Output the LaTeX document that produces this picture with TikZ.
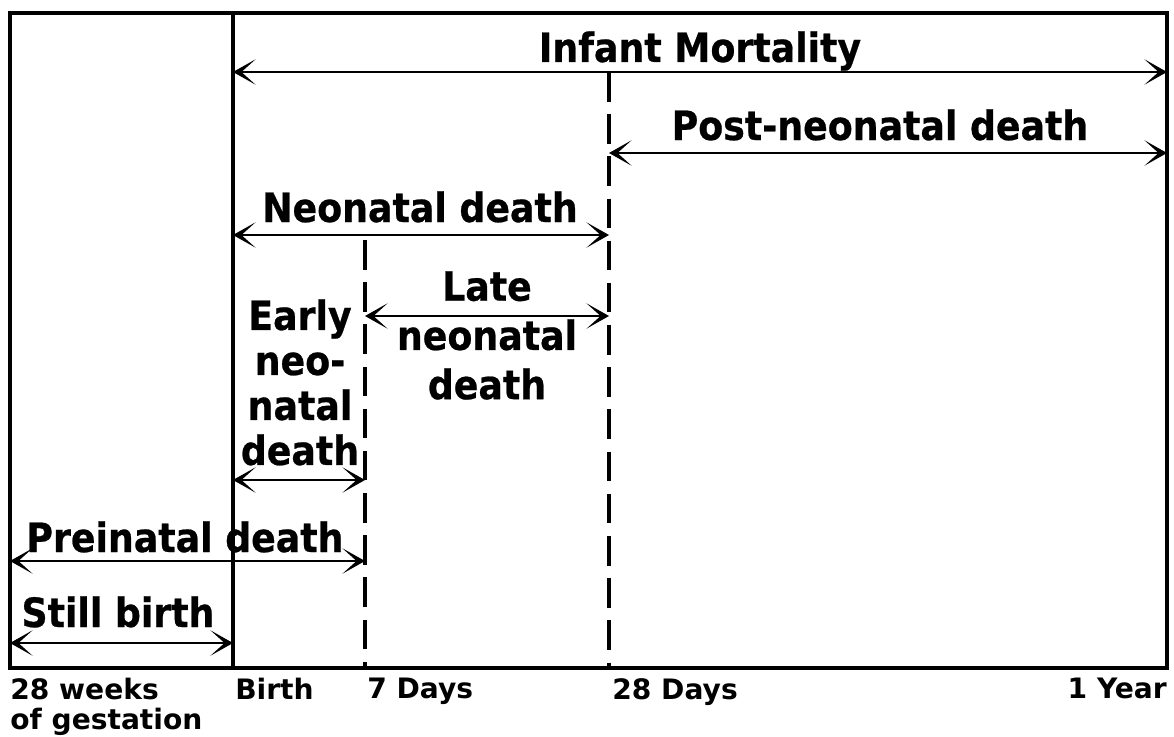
\documentclass[tikz,border=0pt]{standalone}
\usepackage{fontspec}
\setmainfont{DejaVu Sans Condensed}[BoldFeatures={FakeBold=0.6}]
\newfontfamily\tickfont{DejaVu Sans}
\usetikzlibrary{arrows.meta}

\begin{document}
\begin{tikzpicture}[x=0.025cm, y=-0.025cm,
    >={Stealth[length=16pt,width=18pt,inset=10pt]},
    span/.style={<->, line width=2.1pt},
    frame/.style={line width=3pt},
    cut/.style={line width=2.7pt, dash pattern=on 21pt off 9pt},
    big/.style={font=\fontsize{28.7}{35}\selectfont\bfseries, inner sep=0pt},
    tick/.style={font=\fontsize{20}{21}\selectfont\tickfont\bfseries, inner sep=0pt}]
  \useasboundingbox (0,0) rectangle (1174,736);

  % Marcas del eje
  \coordinate (gest)  at (10,668);
  \coordinate (birth) at (233,668);
  \coordinate (d7)    at (365,668);
  \coordinate (d28)   at (609,668);
  \coordinate (year)  at (1167,668);
  \coordinate (top)   at (10,13);

  % Niveles de las flechas
  \coordinate (lvIM)   at (0,72);
  \coordinate (lvPost) at (0,153);
  \coordinate (lvNeo)  at (0,235);
  \coordinate (lvCut)  at (0,240);
  \coordinate (lvLate) at (0,316);
  \coordinate (lvEarly) at (0,480);
  \coordinate (lvPre)  at (0,561);
  \coordinate (lvStill) at (0,643);

  % Marco
  \draw[frame] (top) rectangle (year);
  \draw[frame] (birth |- top) -- (birth);
  \draw[cut] (d7 |- lvCut) -- (d7);
  \draw[cut] (d28 |- lvIM) -- (d28);

  % Periodos
  \draw[span] (birth |- lvIM) -- (year |- lvIM);
  \draw[span] (d28 |- lvPost) -- (year |- lvPost);
  \draw[span] (birth |- lvNeo) -- (d28 |- lvNeo);
  \draw[span] (d7 |- lvLate) -- (d28 |- lvLate);
  \draw[span] (birth |- lvEarly) -- (d7 |- lvEarly);
  \draw[span] (gest |- lvPre) -- (d7 |- lvPre);
  \draw[span] (gest |- lvStill) -- (birth |- lvStill);

  % Etiquetas
  \node[big, anchor=base] (infant) at (700,62) {Infant Mortality};
  \node[big, anchor=base] (post) at (880,140) {Post-neonatal death};
  \node[big, anchor=base] (neo) at (420,222) {Neonatal death};
  \node[big, anchor=north, align=center] (late) at (487,271) {Late\\neonatal\\death};
  \node[big, anchor=north, align=center, font=\fontsize{28.7}{32}\selectfont\bfseries]
    (early) at (300,299) {Early\\neo-\\natal\\death};
  \node[big, anchor=base] (pre) at (185,552) {Preinatal death};
  \node[big, anchor=base] (still) at (118,627) {Still birth};

  % Eje inferior
  \node[tick, anchor=north west, align=left] (lbGest) at (10,678) {28 weeks\\of gestation};
  \node[tick, anchor=north west] (lbBirth) at (235,678) {Birth};
  \node[tick, anchor=north west] (lbD7) at (367,678) {7 Days};
  \node[tick, anchor=north west] (lbD28) at (612,678) {28 Days};
  \node[tick, anchor=north east] (lbYear) at (1167,678) {1 Year};
\end{tikzpicture}
\end{document}
